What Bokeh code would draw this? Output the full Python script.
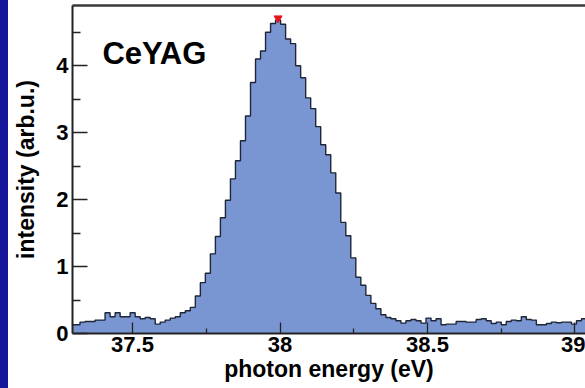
import numpy as np
from bokeh.plotting import figure
from bokeh.models import Range1d, FixedTicker, LinearAxis, Label, Div
from bokeh.layouts import row
from bokeh.embed import file_html
from bokeh.resources import INLINE

# ---- data ----
bin_start = 37.288
bin_width = 0.017
counts = [
    0.13, 0.13, 0.17, 0.18, 0.18, 0.20, 0.20, 0.31, 0.25, 0.31,
    0.25, 0.25, 0.31, 0.25, 0.22, 0.24, 0.22, 0.14, 0.17, 0.20,
    0.23, 0.25, 0.31, 0.34, 0.39, 0.56, 0.76, 0.90, 1.19, 1.45,
    1.73, 1.99, 2.31, 2.58, 2.88, 3.25, 3.75, 4.10, 4.22, 4.50,
    4.63, 4.68, 4.62, 4.40, 4.33, 4.00, 3.82, 3.52, 3.36, 3.09,
    2.82, 2.67, 2.40, 2.10, 1.66, 1.46, 1.13, 0.84, 0.72, 0.57,
    0.45, 0.37, 0.28, 0.24, 0.22, 0.19, 0.155, 0.19, 0.21, 0.19,
    0.155, 0.23, 0.19, 0.22, 0.13, 0.14, 0.14, 0.18, 0.18, 0.17,
    0.17, 0.21, 0.22, 0.19, 0.15, 0.17, 0.13, 0.18, 0.20, 0.19,
    0.25, 0.21, 0.20, 0.13, 0.13, 0.15, 0.17, 0.16, 0.17, 0.17,
    0.14, 0.19, 0.22,
]
x_ticks = [37.5, 38.0, 38.5, 39.0]
x_tick_labels = {37.5: "37.5", 38.0: "38", 38.5: "38.5", 39.0: "39"}
x_minor = [37.25, 37.75, 38.25, 38.75]
y_ticks = [0, 1, 2, 3, 4]
y_minor = [0.5, 1.5, 2.5, 3.5, 4.5]
title_text = "CeYAG"
x_label = "photon energy (eV)"
y_label = "intensity (arb.u.)"

n = len(counts)
edges = bin_start + bin_width * np.arange(n + 1)
step_x = list(edges)
step_y = list(counts) + [counts[-1]]
imax = int(np.argmax(counts))
peak_x = (edges[imax] + edges[imax + 1]) / 2
peak_y = counts[imax]

FONT = "Liberation Sans"
FILL = "#7a96d2"
LINE = "#1e2638"

p = figure(width=577, height=388,
           x_range=Range1d(37.2966, 39.0356), y_range=Range1d(0, 4.9),
           output_backend="svg", toolbar_location=None,
           min_border_left=64, min_border_right=0,
           min_border_top=5, min_border_bottom=55, margin=0)
p.grid.visible = False
p.outline_line_color = None
p.background_fill_color = "white"
p.border_fill_color = "white"

p.varea_step(x=step_x, y1=[0] * len(step_y), y2=step_y, step_mode="after",
             fill_color=FILL)
p.step(x=step_x, y=step_y, mode="after", line_color=LINE, line_width=1.4)
p.scatter(x=[peak_x], y=[peak_y + 0.03], marker="inverted_triangle", size=8,
          color="#e8141e")

for ax in (p.xaxis[0], p.yaxis[0]):
    ax.axis_line_color = "#222222"
    ax.axis_line_width = 2
    ax.major_tick_line_color = "#222222"
    ax.minor_tick_line_color = "#222222"
    ax.major_tick_line_width = 1.3
    ax.minor_tick_line_width = 1.3
    ax.major_tick_out = 0
    ax.minor_tick_out = 0
    ax.major_label_text_font = FONT
    ax.major_label_text_font_style = "bold"
    ax.major_label_text_font_size = "22px"
    ax.major_label_text_color = "black"
    ax.axis_label_text_font = FONT
    ax.axis_label_text_font_style = "bold"
    ax.axis_label_text_font_size = "23px"
    ax.axis_label_text_color = "black"

p.xaxis.ticker = FixedTicker(ticks=x_ticks, minor_ticks=x_minor)
p.xaxis.major_label_overrides = x_tick_labels
p.xaxis.major_tick_in = 11
p.xaxis.minor_tick_in = 5
p.xaxis.major_label_standoff = 3
p.xaxis.axis_label_standoff = 1
p.xaxis.axis_label = x_label

p.yaxis.ticker = FixedTicker(ticks=y_ticks, minor_ticks=y_minor)
p.yaxis.major_tick_in = 15
p.yaxis.minor_tick_in = 8
p.yaxis.major_label_standoff = 4
p.yaxis.axis_label_standoff = 14
p.yaxis.axis_label = y_label

top = LinearAxis(ticker=FixedTicker(ticks=[]), major_label_text_font_size="0px",
                 axis_line_color="#3a3a3a", axis_line_width=2.5,
                 major_tick_line_color=None, minor_tick_line_color=None)
p.add_layout(top, "above")

p.add_layout(Label(x=37.398, y=4.19, text=title_text, text_font=FONT,
                   text_font_style="bold", text_font_size="31px",
                   text_color="black", text_baseline="alphabetic"))

strip = Div(width=8, height=388, margin=0,
            styles={"background-color": "#16169b"})
layout = row(strip, p, spacing=0, margin=0)

open("out.html", "w").write(file_html(layout, INLINE))
